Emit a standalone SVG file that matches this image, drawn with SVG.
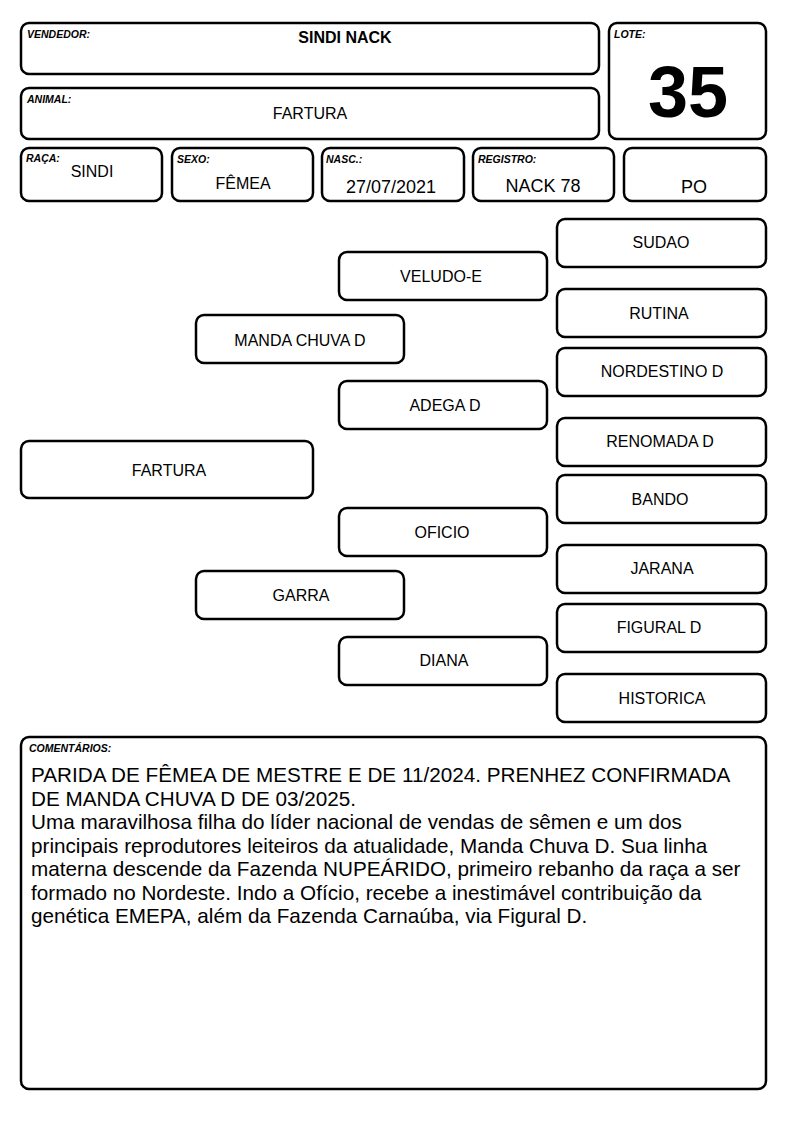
<svg xmlns="http://www.w3.org/2000/svg" width="794" height="1123" viewBox="0 0 794 1123">
<style>
.b{fill:#fff;stroke:#000;stroke-width:2.5}
.h{font-family:"Liberation Sans",Arial,sans-serif;font-size:10.5px;font-weight:bold;font-style:italic}
.t{font-family:"Liberation Sans",Arial,sans-serif;font-size:16px;text-anchor:middle}
.v{font-family:"Liberation Sans",Arial,sans-serif;font-size:18px;text-anchor:middle}
.c{font-family:"Liberation Sans",Arial,sans-serif;font-size:20.7px}
</style>
<rect width="794" height="1123" fill="#fff"/>
<g id="vendedor"><rect class="b" x="21" y="23" width="578" height="51" rx="8"/><text class="h" x="27" y="38">VENDEDOR:</text><text class="t" x="345" y="43" font-weight="bold">SINDI NACK</text></g>
<g id="animal"><rect class="b" x="21" y="88" width="578" height="51" rx="8"/><text class="h" x="27" y="103">ANIMAL:</text><text class="t" x="310" y="119">FARTURA</text></g>
<g id="lote"><rect class="b" x="609" y="23" width="157" height="116" rx="8"/><text class="h" x="614" y="38">LOTE:</text><text x="688" y="117" font-family="Liberation Sans,Arial,sans-serif" font-size="72" font-weight="bold" text-anchor="middle">35</text></g>
<g id="raca"><rect class="b" x="21" y="148" width="141" height="53" rx="8"/><text class="h" x="26" y="162">RAÇA:</text><text class="t" x="92" y="177" font-size="14.5">SINDI</text></g>
<g id="sexo"><rect class="b" x="172" y="148" width="141" height="53" rx="8"/><text class="h" x="177" y="163">SEXO:</text><text class="t" x="243" y="189" font-size="14.5">FÊMEA</text></g>
<g id="nasc"><rect class="b" x="322" y="148" width="142" height="53" rx="8"/><text class="h" x="326" y="163">NASC.:</text><text class="v" x="391" y="193">27/07/2021</text></g>
<g id="registro"><rect class="b" x="473" y="148" width="141" height="53" rx="8"/><text class="h" x="478" y="163">REGISTRO:</text><text class="v" x="543" y="192">NACK 78</text></g>
<g id="po"><rect class="b" x="624" y="148" width="142" height="53" rx="8"/><text class="v" x="694" y="193">PO</text></g>
<g id="connectors"></g>
<g id="n-fartura"><rect class="b" x="21" y="441" width="292" height="57" rx="8"/><text class="t" x="169" y="476">FARTURA</text></g>
<g id="n-mandachuva"><rect class="b" x="196" y="315" width="208" height="48" rx="8"/><text class="t" x="300" y="346">MANDA CHUVA D</text></g>
<g id="n-garra"><rect class="b" x="196" y="571" width="208" height="48" rx="8"/><text class="t" x="301" y="601">GARRA</text></g>
<g id="n-veludo"><rect class="b" x="339" y="252" width="208" height="48" rx="8"/><text class="t" x="441" y="282">VELUDO-E</text></g>
<g id="n-adega"><rect class="b" x="339" y="381" width="208" height="48" rx="8"/><text class="t" x="445" y="411">ADEGA D</text></g>
<g id="n-oficio"><rect class="b" x="339" y="508" width="208" height="48" rx="8"/><text class="t" x="442" y="538">OFICIO</text></g>
<g id="n-diana"><rect class="b" x="339" y="637" width="208" height="48" rx="8"/><text class="t" x="444" y="666">DIANA</text></g>
<g id="n-sudao"><rect class="b" x="557" y="219" width="209" height="48" rx="8"/><text class="t" x="661" y="248">SUDAO</text></g>
<g id="n-rutina"><rect class="b" x="557" y="289" width="209" height="48" rx="8"/><text class="t" x="659" y="319">RUTINA</text></g>
<g id="n-nordestino"><rect class="b" x="557" y="348" width="209" height="48" rx="8"/><text class="t" x="662" y="377">NORDESTINO D</text></g>
<g id="n-renomada"><rect class="b" x="557" y="418" width="209" height="48" rx="8"/><text class="t" x="660" y="447">RENOMADA D</text></g>
<g id="n-bando"><rect class="b" x="557" y="475" width="209" height="48" rx="8"/><text class="t" x="660" y="505">BANDO</text></g>
<g id="n-jarana"><rect class="b" x="557" y="545" width="209" height="48" rx="8"/><text class="t" x="662" y="574">JARANA</text></g>
<g id="n-figural"><rect class="b" x="557" y="604" width="209" height="48" rx="8"/><text class="t" x="659" y="633">FIGURAL D</text></g>
<g id="n-historica"><rect class="b" x="557" y="674" width="209" height="48" rx="8"/><text class="t" x="662" y="704">HISTORICA</text></g>
<g id="comentarios"><rect class="b" x="21" y="737" width="745" height="352" rx="8"/><text class="h" x="29" y="752" font-size="10">COMENTÁRIOS:</text>
<text class="c" x="31" y="782">PARIDA DE FÊMEA DE MESTRE E DE 11/2024. PRENHEZ CONFIRMADA</text>
<text class="c" x="31" y="806">DE MANDA CHUVA D DE 03/2025.</text>
<text class="c" x="31" y="829">Uma maravilhosa filha do líder nacional de vendas de sêmen e um dos</text>
<text class="c" x="31" y="853">principais reprodutores leiteiros da atualidade, Manda Chuva D. Sua linha</text>
<text class="c" x="31" y="876">materna descende da Fazenda NUPEÁRIDO, primeiro rebanho da raça a ser</text>
<text class="c" x="31" y="900">formado no Nordeste. Indo a Ofício, recebe a inestimável contribuição da</text>
<text class="c" x="31" y="923">genética EMEPA, além da Fazenda Carnaúba, via Figural D.</text>
</g>
</svg>
